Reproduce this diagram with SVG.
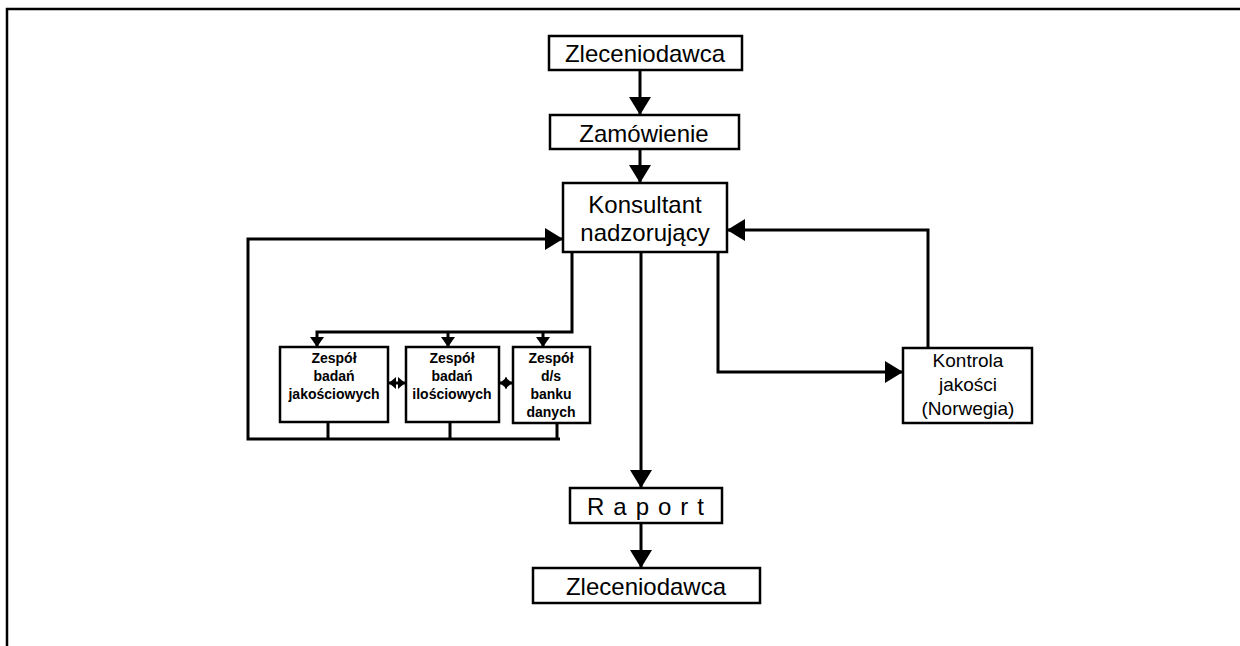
<svg xmlns="http://www.w3.org/2000/svg" width="1240" height="646" viewBox="0 0 1240 646">
<defs>
<style>
.box{fill:#fff;stroke:#000;stroke-width:2.5}
.ln{fill:none;stroke:#000;stroke-width:3}
.lnb{fill:none;stroke:#000;stroke-width:2.5}
.t{font-family:"Liberation Sans",Arial,sans-serif;font-size:24px;fill:#000;text-anchor:middle}
.ts{font-family:"Liberation Sans",Arial,sans-serif;font-size:14px;font-weight:bold;fill:#000;text-anchor:middle}
.tk{font-family:"Liberation Sans",Arial,sans-serif;font-size:19px;fill:#000;text-anchor:middle}
</style>
<marker id="big" markerUnits="userSpaceOnUse" markerWidth="20" markerHeight="22" refX="18" refY="11" orient="auto"><path d="M0,0 L18,11 L0,22 z" fill="#000"/></marker>
<marker id="sm" markerUnits="userSpaceOnUse" markerWidth="12" markerHeight="14" refX="10" refY="7" orient="auto-start-reverse"><path d="M0,0 L10,7 L0,14 z" fill="#000"/></marker>
<marker id="tiny" markerUnits="userSpaceOnUse" markerWidth="8" markerHeight="12" refX="7" refY="6" orient="auto-start-reverse"><path d="M0,0 L7,6 L0,12 z" fill="#000"/></marker>
</defs>
<rect width="1240" height="646" fill="#fff"/>
<path d="M7,646 V9 H1240" class="lnb"/>
<g id="connectors">
<path d="M640,70 V115" class="ln" marker-end="url(#big)"/>
<path d="M640,149 V183" class="ln" marker-end="url(#big)"/>
<path d="M641,252 V488" class="ln" marker-end="url(#big)"/>
<path d="M641,523 V568" class="ln" marker-end="url(#big)"/>
<path d="M572,252 V332 H317 V347" class="ln" marker-end="url(#sm)"/>
<path d="M448,332 V347" class="ln" marker-end="url(#sm)"/>
<path d="M543,332 V347" class="ln" marker-end="url(#sm)"/>
<path d="M389,383 H405" class="ln" marker-start="url(#tiny)" marker-end="url(#tiny)"/>
<path d="M500,383 H512" class="ln" marker-start="url(#tiny)" marker-end="url(#tiny)"/>
<path d="M328,422 V439 M450,422 V439 M557,423 V439" class="ln"/>
<path d="M560,439 H248 V239 H563" class="ln" marker-end="url(#big)"/>
<path d="M718,252 V372 H903" class="ln" marker-end="url(#big)"/>
<path d="M928,348 V230 H727" class="ln" marker-end="url(#big)"/>
</g>
<g id="n-zlec1"><rect class="box" x="549" y="36" width="193" height="34"/><text class="t" x="645" y="62">Zleceniodawca</text></g>
<g id="n-zam"><rect class="box" x="550" y="115" width="189" height="34"/><text class="t" x="644" y="142">Zamówienie</text></g>
<g id="n-kons"><rect class="box" x="563" y="183" width="164" height="69"/><text class="t" x="645" y="213">Konsultant</text><text class="t" x="645" y="241">nadzorujący</text></g>
<g id="n-z1"><rect class="box" x="280" y="347" width="108" height="75"/><text class="ts" x="334" y="363">Zespół</text><text class="ts" x="334" y="381">badań</text><text class="ts" x="334" y="399">jakościowych</text></g>
<g id="n-z2"><rect class="box" x="406" y="347" width="93" height="75"/><text class="ts" x="452" y="363">Zespół</text><text class="ts" x="452" y="381">badań</text><text class="ts" x="452" y="399">ilościowych</text></g>
<g id="n-z3"><rect class="box" x="513" y="347" width="77" height="76"/><text class="ts" x="551" y="363">Zespół</text><text class="ts" x="551" y="381">d/s</text><text class="ts" x="551" y="399">banku</text><text class="ts" x="551" y="417">danych</text></g>
<g id="n-kontrola"><rect class="box" x="903" y="348" width="129" height="75"/><text class="tk" x="968" y="367">Kontrola</text><text class="tk" x="968" y="391">jakości</text><text class="tk" x="968" y="415">(Norwegia)</text></g>
<g id="n-raport"><rect class="box" x="570" y="488" width="152" height="35"/><text class="t" x="650" y="515" style="letter-spacing:9px">Raport</text></g>
<g id="n-zlec2"><rect class="box" x="533" y="568" width="227" height="35"/><text class="t" x="646" y="595">Zleceniodawca</text></g>
</svg>
